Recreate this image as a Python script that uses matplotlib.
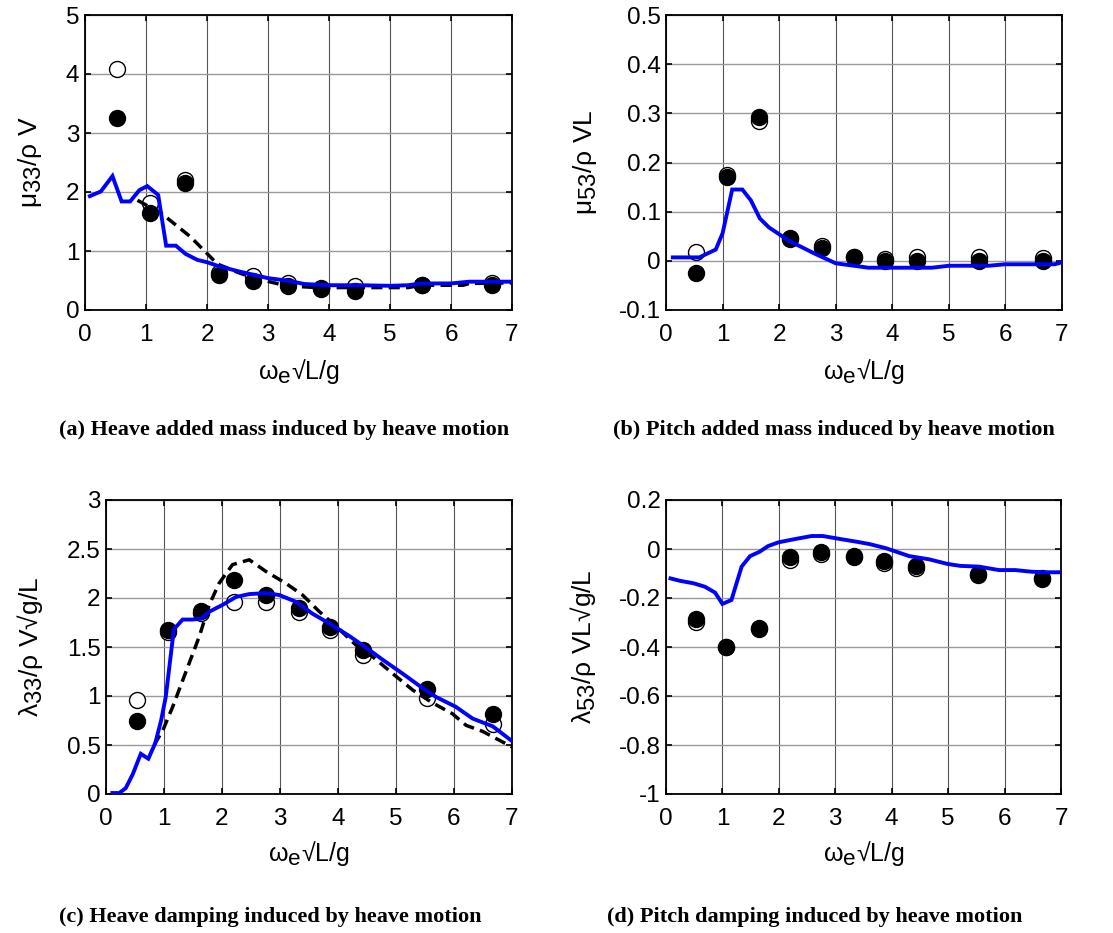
import matplotlib
matplotlib.use("Agg")
import matplotlib.pyplot as plt
try:
    import matplotlib._mathtext as _mt
    _mt.SHRINK_FACTOR = 0.9
except Exception:
    pass

plt.rcParams['font.family'] = ['Liberation Sans', 'DejaVu Sans']
plt.rcParams['mathtext.fontset'] = 'custom'
plt.rcParams['mathtext.rm'] = 'Liberation Sans'
plt.rcParams['mathtext.it'] = 'Liberation Sans'
plt.rcParams['mathtext.default'] = 'regular'

# ---------------- data ----------------
# experiment frequencies (markers)
x_exp = [0.53, 1.07, 1.64, 2.20, 2.75, 3.33, 3.87, 4.43, 5.53, 6.67]

# (a) heave added mass
a_open = [4.09, 1.81, 2.20, 0.63, 0.57, 0.46, 0.38, 0.40, 0.43, 0.45]
a_fill = [3.26, 1.64, 2.16, 0.60, 0.50, 0.40, 0.36, 0.33, 0.42, 0.43]
a_blue_x = [0.08, 0.26, 0.45, 0.60, 0.74, 0.89, 1.02, 1.20, 1.33, 1.49, 1.65, 1.84,
            2.0, 2.2, 2.5, 2.75, 3.0, 3.3, 3.6, 4.0, 4.5, 5.0, 5.3, 5.5, 6.0, 6.3, 7.0]
a_blue_y = [1.93, 2.01, 2.27, 1.84, 1.84, 2.03, 2.10, 1.95, 1.09, 1.09, 0.95, 0.85,
            0.81, 0.74, 0.66, 0.60, 0.54, 0.50, 0.44, 0.42, 0.42, 0.41, 0.42, 0.45, 0.45, 0.48, 0.48]
a_dash_x = [0.86, 1.0, 1.25, 1.73, 2.17, 2.5, 2.74, 3.3, 3.8, 4.5, 5.0, 5.3, 5.5, 6.2, 6.3, 7.0]
a_dash_y = [1.86, 1.78, 1.64, 1.24, 0.78, 0.64, 0.55, 0.41, 0.38, 0.38, 0.38, 0.38, 0.42, 0.42, 0.45, 0.46]

# (b) pitch added mass
b_open = [0.017, 0.174, 0.285, 0.045, 0.030, 0.007, 0.003, 0.008, 0.008, 0.005]
b_fill = [-0.024, 0.170, 0.293, 0.047, 0.027, 0.007, -0.001, -0.001, 0.000, 0.000]
b_blue_x = [0.12, 0.59, 0.88, 1.00, 1.17, 1.35, 1.50, 1.66, 1.82, 2.17, 2.64, 3.0, 3.58,
            4.7, 5.0, 5.7, 6.0, 6.87, 7.0]
b_blue_y = [0.007, 0.007, 0.023, 0.056, 0.145, 0.145, 0.123, 0.086, 0.068, 0.041, 0.014,
            -0.005, -0.014, -0.014, -0.010, -0.010, -0.007, -0.007, -0.003]

# (c) heave damping
c_open = [0.96, 1.65, 1.85, 1.96, 1.96, 1.86, 1.67, 1.42, 0.98, 0.71]
c_fill = [0.75, 1.67, 1.87, 2.18, 2.03, 1.90, 1.70, 1.47, 1.07, 0.82]
c_blue_x = [0.11, 0.23, 0.34, 0.46, 0.60, 0.73, 0.85, 0.95, 1.03, 1.17, 1.32, 1.49, 1.64,
            1.78, 2.01, 2.24, 2.47, 2.76, 2.99, 3.28, 3.56, 3.88, 4.20, 4.54, 4.77, 5.11,
            5.46, 5.69, 6.03, 6.32, 6.67, 7.0]
c_blue_y = [0.01, 0.01, 0.06, 0.20, 0.41, 0.36, 0.52, 0.75, 0.99, 1.68, 1.78, 1.78, 1.79,
            1.86, 1.93, 2.01, 2.04, 2.05, 2.03, 1.96, 1.84, 1.73, 1.61, 1.47, 1.37, 1.23,
            1.08, 0.99, 0.89, 0.77, 0.69, 0.54]
c_dash_x = [0.83, 0.98, 1.15, 1.38, 1.61, 1.78, 1.95, 2.18, 2.47, 2.76, 3.10, 3.39, 3.68,
            3.97, 4.31, 4.60, 4.94, 5.29, 5.63, 5.97, 6.21, 6.49, 7.0]
c_dash_y = [0.50, 0.65, 0.89, 1.25, 1.61, 1.93, 2.15, 2.34, 2.39, 2.27, 2.15, 2.03, 1.86,
            1.71, 1.52, 1.40, 1.23, 1.06, 0.93, 0.82, 0.70, 0.64, 0.48]

# (d) pitch damping
d_open = [-0.298, -0.400, -0.326, -0.045, -0.022, -0.031, -0.058, -0.079, -0.105, -0.122]
d_fill = [-0.287, -0.399, -0.324, -0.034, -0.014, -0.029, -0.048, -0.068, -0.102, -0.120]
d_blue_x = [0.08, 0.25, 0.49, 0.69, 0.87, 1.00, 1.16, 1.34, 1.49, 1.66, 1.81, 1.99, 2.25,
            2.58, 2.78, 3.08, 3.37, 3.61, 3.90, 4.31, 4.66, 4.99, 5.22, 5.55, 5.90, 6.19,
            6.49, 6.78, 7.0]
d_blue_y = [-0.120, -0.130, -0.140, -0.154, -0.178, -0.224, -0.208, -0.072, -0.029, -0.011,
            0.012, 0.027, 0.039, 0.053, 0.053, 0.041, 0.030, 0.020, 0.003, -0.029, -0.042,
            -0.061, -0.069, -0.072, -0.086, -0.086, -0.093, -0.095, -0.095]

ylabels = ['$μ_{33}$/ρ V', '$μ_{53}$/ρ VL', '$λ_{33}$/ρ V√g/L', '$λ_{53}$/ρ VL√g/L']
xlabel = 'ω$_e$√L/g'
captions = ['(a) Heave added mass induced by heave motion',
            '(b) Pitch added mass induced by heave motion',
            '(c) Heave damping induced by heave motion',
            '(d) Pitch damping induced by heave motion']
yticks = [[0, 1, 2, 3, 4, 5],
          [-0.1, 0, 0.1, 0.2, 0.3, 0.4, 0.5],
          [0, 0.5, 1, 1.5, 2, 2.5, 3],
          [-1, -0.8, -0.6, -0.4, -0.2, 0, 0.2]]
yticklabels = [['0', '1', '2', '3', '4', '5'],
               ['-0.1', '0', '0.1', '0.2', '0.3', '0.4', '0.5'],
               ['0', '0.5', '1', '1.5', '2', '2.5', '3'],
               ['-1', '-0.8', '-0.6', '-0.4', '-0.2', '0', '0.2']]
xticks = [0, 1, 2, 3, 4, 5, 6, 7]

# ---------------- layout (pixels) ----------------
W, H = 1113, 933
fig = plt.figure(figsize=(W / 100, H / 100), dpi=100)

boxes = [(85, 512, 15, 310), (666, 1062, 15, 310), (106, 512, 500, 794), (666, 1061, 500, 794)]
ylab_x = [30, 585, 30, 583]
xlab_y = [372, 372, 853, 853]
cap_pos = [(284, 430), (834, 430), (270, 917), (815, 917)]

series = [
    (a_open, a_fill, [(a_blue_x, a_blue_y)], [(a_dash_x, a_dash_y)]),
    (b_open, b_fill, [(b_blue_x, b_blue_y)], []),
    (c_open, c_fill, [(c_blue_x, c_blue_y)], [(c_dash_x, c_dash_y)]),
    (d_open, d_fill, [(d_blue_x, d_blue_y)], []),
]

for i, (l, r, t, b) in enumerate(boxes):
    ax = fig.add_axes([l / W, 1 - b / H, (r - l) / W, (b - t) / H])
    yo, yf, blues, dashes = series[i]
    ax.plot(x_exp, yo, 'o', ms=11.5, mfc='white', mec='black', mew=1.0, zorder=3)
    ax.plot(x_exp, yf, 'o', ms=11.5, mfc='black', mec='black', mew=1.0, zorder=4)
    for (xx, yy) in dashes:
        ln, = ax.plot(xx, yy, '--', color='black', lw=2.5, zorder=5)
        ln.set_dashes([3.2, 1.8])
    for (xx, yy) in blues:
        ax.plot(xx, yy, '-', color='#0000ff', lw=2.8, zorder=6, solid_joinstyle='miter')
    ax.set_xlim(0, 7)
    ax.set_ylim(yticks[i][0], yticks[i][-1])
    ax.set_xticks(xticks)
    ax.set_xticklabels([str(v) for v in xticks])
    ax.set_yticks(yticks[i])
    ax.set_yticklabels(yticklabels[i])
    ax.grid(True, axis='x', color='#555555', lw=0.8)
    ax.grid(True, axis='y', color='#9a9a9a', lw=1.0)
    ax.set_axisbelow(True)
    ax.tick_params(direction='in', length=4, width=1.2, top=True, right=True,
                   labelsize=17.5)
    ax.tick_params(axis='x', pad=10)
    ax.tick_params(axis='y', pad=4)
    for s in ax.spines.values():
        s.set_linewidth(1.3)
        s.set_color('black')
    ax.set_ylabel(ylabels[i], fontsize=19)
    ax.yaxis.set_label_coords(ylab_x[i] / W, 1 - (t + b) / 2 / H, transform=fig.transFigure)
    ax.set_xlabel(xlabel, fontsize=18)
    ax.xaxis.set_label_coords((l + r) / 2 / W, 1 - xlab_y[i] / H, transform=fig.transFigure)
    ax.xaxis.label.set_va('center')
    ax.yaxis.label.set_va('center')
    cx, cy = cap_pos[i]
    fig.text(cx / W, 1 - cy / H, captions[i], ha='center', va='center',
             fontsize=16, fontweight='bold', family='Liberation Serif')

fig.savefig('out.png', dpi=100)
